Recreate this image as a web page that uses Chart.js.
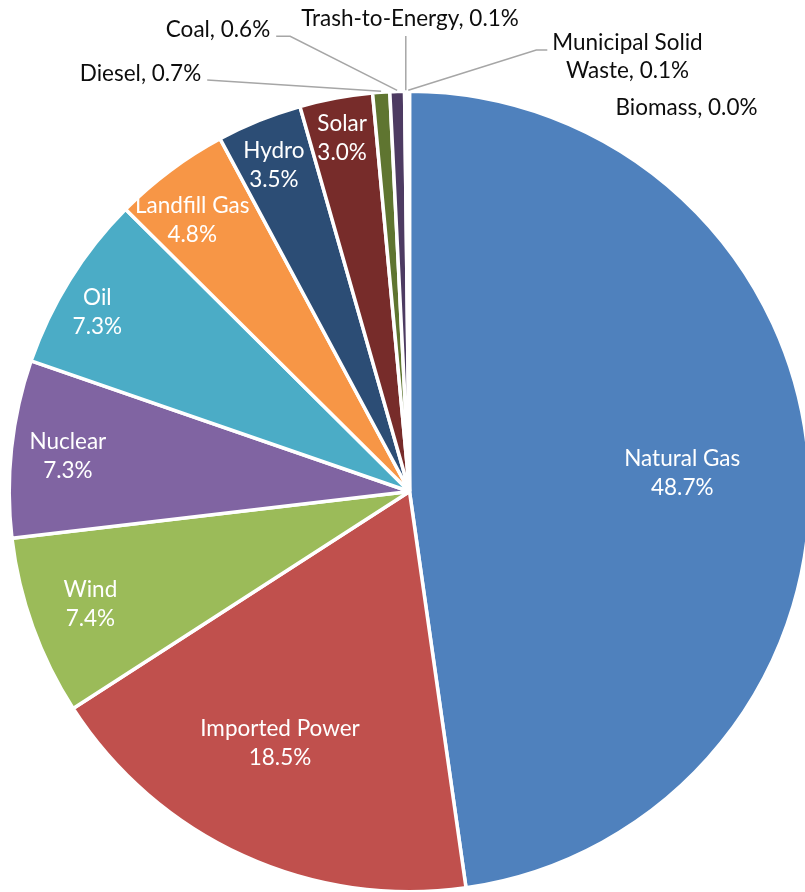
<!DOCTYPE html>
<html>
<head>
<meta charset="utf-8">
<title>Electricity supply by source</title>
<script src="https://cdn.jsdelivr.net/npm/chart.js@4.4.1/dist/chart.umd.min.js"></script>
<style>
  html, body { margin: 0; padding: 0; background: #ffffff; overflow: hidden; }
  #wrap { position: relative; width: 805px; height: 892px; }
</style>
</head>
<body>
<div id="wrap"><canvas id="chart"></canvas></div>
<script>
// Supply mix by source (percent), clockwise from 12 o'clock
const categories = [
  'Natural Gas', 'Imported Power', 'Wind', 'Nuclear', 'Oil', 'Landfill Gas',
  'Hydro', 'Solar', 'Diesel', 'Coal', 'Trash-to-Energy', 'Municipal Solid Waste', 'Biomass'
];
const shares = [48.7, 18.5, 7.4, 7.3, 7.3, 4.8, 3.5, 3.0, 0.7, 0.6, 0.1, 0.1, 0.0];

const sliceColors = [
  '#4F81BD', '#C0504D', '#9BBB59', '#8064A2', '#4BACC6', '#F79646',
  '#2C4D75', '#772C2A', '#5F7530', '#4D3B62', '#276A7C', '#B65708', '#729ACA'
];

// Text styling
const FONT_FAMILY = 'Lato, "Open Sans", sans-serif';
const FONT_SIZE = 22.5;
const LINE_GAP = 29;

// Labels drawn inside the slice: fraction of the radius and a small angular nudge (degrees)
const insideLabels = {
  0: { r: 0.683, da: 0.1 },
  1: { r: 0.707, da: 2.7 },
  2: { r: 0.845, da: 0.4 },
  3: { r: 0.858, da: -0.3 },
  4: { r: 0.899, da: -2.1 },
  5: { r: 0.868, da: -2.0 },
  6: { r: 0.883, da: -0.5 },
  7: { r: 0.900, da: -0.2 }
};

// Callout labels above the pie: text offset from the pie centre, leader-line attachment side
const calloutLabels = {
  8:  { dx: -269,  dy: -410.5, side: 'right',  elbow: 0 },
  9:  { dx: -191.5, dy: -454.2, side: 'right', elbow: 14 },
  10: { dx: 0.5,   dy: -465.5, side: 'bottom' },
  11: { dx: 218,   dy: -441.5, side: 'left',   elbow: 11, maxWidth: 165 },
  12: { dx: 277,   dy: -376.5, side: 'none' }
};

function wrapText(ctx, text, maxWidth) {
  if (!maxWidth) return [text];
  const words = text.split(' ');
  const lines = [];
  let cur = '';
  words.forEach(w => {
    const test = cur ? cur + ' ' + w : w;
    if (cur && ctx.measureText(test).width > maxWidth) {
      lines.push(cur);
      cur = w;
    } else {
      cur = test;
    }
  });
  if (cur) lines.push(cur);
  return lines;
}

const sliceLabels = {
  id: 'sliceLabels',
  afterDatasetsDraw(chart) {
    const ctx = chart.ctx;
    const arcs = chart.getDatasetMeta(0).data;
    ctx.save();
    ctx.font = FONT_SIZE + 'px ' + FONT_FAMILY;
    ctx.textAlign = 'center';
    ctx.textBaseline = 'alphabetic';

    arcs.forEach((arc, i) => {
      const p = arc.getProps(['x', 'y', 'startAngle', 'endAngle', 'outerRadius'], true);
      const mid = (p.startAngle + p.endAngle) / 2;
      const pct = shares[i].toFixed(1) + '%';

      const inside = insideLabels[i];
      if (inside) {
        const a = mid + inside.da * Math.PI / 180;
        const r = p.outerRadius * inside.r;
        const lx = p.x + Math.cos(a) * r;
        const ly = p.y + Math.sin(a) * r;
        ctx.fillStyle = '#ffffff';
        ctx.fillText(categories[i], lx, ly - 7);
        ctx.fillText(pct, lx, ly - 7 + LINE_GAP);
        return;
      }

      const call = calloutLabels[i];
      if (!call) return;
      const lx = p.x + call.dx;
      const b0 = p.y + call.dy;
      const lines = wrapText(ctx, categories[i] + ', ' + pct, call.maxWidth);
      ctx.fillStyle = '#0d0d0d';
      lines.forEach((ln, k) => ctx.fillText(ln, lx, b0 + k * 28));

      if (call.side === 'none') return;
      const er = p.outerRadius + 1;
      const ex = p.x + Math.cos(mid) * er;
      const ey = p.y + Math.sin(mid) * er;
      ctx.strokeStyle = '#a6a6a6';
      ctx.lineWidth = 1.5;
      ctx.beginPath();
      if (call.side === 'right') {
        const w = Math.max(...lines.map(l => ctx.measureText(l).width));
        const sx = lx + w / 2 + 6, sy = b0 - 1;
        ctx.moveTo(sx, sy);
        if (call.elbow) ctx.lineTo(sx + call.elbow, sy);
      } else if (call.side === 'left') {
        const w = ctx.measureText(lines[0]).width;
        const sx = lx - w / 2 - 5, sy = b0;
        ctx.moveTo(sx, sy);
        if (call.elbow) ctx.lineTo(sx - call.elbow, sy);
      } else {
        ctx.moveTo(ex, b0 + 10 + (lines.length - 1) * 28);
      }
      ctx.lineTo(ex, ey);
      ctx.stroke();
    });
    ctx.restore();
  }
};

new Chart(document.getElementById('chart'), {
  type: 'pie',
  data: {
    labels: categories,
    datasets: [{
      data: shares,
      backgroundColor: sliceColors,
      borderColor: '#ffffff',
      borderWidth: 3.5,
      radius: 400.3,
      clip: false
    }]
  },
  options: {
    responsive: true,
    maintainAspectRatio: false,
    animation: false,
    layout: { padding: { left: 14, right: 0, top: 91, bottom: 0 } },
    plugins: {
      legend: { display: false },
      tooltip: { enabled: false }
    }
  },
  plugins: [sliceLabels]
});
</script>
</body>
</html>
